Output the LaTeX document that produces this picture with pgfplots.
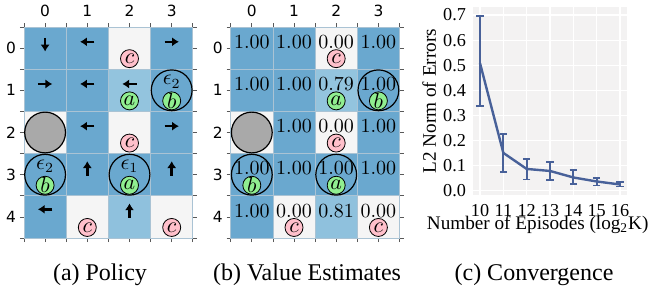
\documentclass[border=0pt]{standalone}
\usepackage{pgfplots}
\pgfplotsset{compat=1.18}
\usepackage{pgfplotstable}
\usepackage{fontspec}
\setmainfont{Liberation Serif}
\newfontfamily\dejavu{DejaVu Sans}
\usetikzlibrary{arrows.meta}

\definecolor{cellline}{RGB}{170,195,212}
\definecolor{pinkc}{RGB}{255,192,203}
\definecolor{greenc}{RGB}{144,238,144}
\definecolor{graycirc}{RGB}{169,169,169}
\definecolor{linecol}{RGB}{72,97,153}
\definecolor{bgcol}{RGB}{243,242,242}

\pgfplotstableread{
col row v
0 0 1.00
1 0 1.00
2 0 0.00
3 0 1.00
0 1 1.00
1 1 1.00
2 1 0.79
3 1 1.00
0 2 0.00
1 2 1.00
2 2 0.00
3 2 1.00
0 3 1.00
1 3 1.00
2 3 1.00
3 3 1.00
0 4 1.00
1 4 0.00
2 4 0.81
3 4 0.00
}\tblcells

\pgfplotstableread{
x y label
0 -0.15 1.00
1 -0.15 1.00
2 -0.15 0.00
3 -0.15 1.00
0 0.85 1.00
1 0.85 1.00
2 0.85 0.79
3 0.85 1.00
1 1.85 1.00
2 1.85 0.00
3 1.85 1.00
0 2.85 1.00
1 2.85 1.00
2 2.85 1.00
3 2.85 1.00
0 3.85 1.00
1 3.85 0.00
2 3.85 0.81
3 3.85 0.00
}\tblvalues

\pgfplotstableread{
x y
3 1
0 3
2 3
}\tblrings

\pgfplotstableread{
x y l
2 0.25 c
2 2.25 c
1 4.25 c
3 4.25 c
}\tblpink

\pgfplotstableread{
x y l
2 1.25 a
3 1.25 b
0 3.25 b
2 3.25 a
}\tblgreen

\pgfplotstableread{
x y k
3 0.8 2
0 2.8 2
2 2.8 1
}\tbleps

\pgfplotstableread{
x y ep em
10 0.508 0.189 0.170
11 0.150 0.077 0.076
12 0.086 0.040 0.042
13 0.078 0.036 0.037
14 0.052 0.029 0.027
15 0.036 0.015 0.016
16 0.024 0.009 0.008
}\tblconv

\pgfplotsset{
  gridpanel/.style={
    anchor=south west, scale only axis, width=84.4pt, height=105.5pt,
    xmin=-0.5, xmax=3.5, ymin=-0.5, ymax=4.5, y dir=reverse,
    axis line style={draw=none},
    xtick={0,1,2,3}, ytick={0,1,2,3,4},
    minor xtick={-0.5,0.5,1.5,2.5,3.5}, minor ytick={-0.5,0.5,1.5,2.5,3.5,4.5},
    xticklabel pos=right,
    tick align=outside, major tick length=2pt, minor tick length=2pt,
    tick style={draw=black!65, line width=0.4pt},
    ticklabel style={font=\dejavu\fontsize{7.7}{9}\selectfont},
    yticklabel style={xshift=1.5pt},
    xticklabel style={yshift=-0.5pt},
    /pgf/number format/assume math mode=true,
    clip=false, clip marker paths=true,
    point meta min=0, point meta max=1,
    colormap={cellmap}{rgb255(0pt)=(245,245,245); rgb255(79pt)=(147,196,222); rgb255(100pt)=(106,168,207)},
  },
  cellplot/.style={scatter, only marks, mark=square*, mark size=10.55pt, line width=0.4pt,
    scatter/use mapped color={draw=cellline, fill=mapped color}, point meta=explicit},
  letterplot/.style={only marks, mark=*, mark size=4.5pt, mark options={fill=#1, draw=none},
    nodes near coords={$\pgfplotspointmeta$}, point meta=explicit symbolic,
    nodes near coords align=center,
    every node near coord/.append style={anchor=center, inner sep=0pt, text=black, font=\fontsize{10.5}{12}\selectfont}},
  ringplot/.style={only marks, mark=o, mark size=10.2pt, mark options={draw=black, line width=0.6pt}},
  grayplot/.style={only marks, mark=*, mark size=10.2pt, mark options={fill=graycirc, draw=black, line width=0.6pt}},
  arr/.style={black, line width=1.25pt, mark=none, -{Latex[length=3.4pt,width=4.6pt]}},
}

\begin{document}
\begin{tikzpicture}
\path[use as bounding box] (0,0) rectangle (325.5pt,145.5pt);

% (a) Policy
\begin{axis}[gridpanel, at={(12pt,26.5pt)}]
\addplot[cellplot] table[x=col, y=row, meta=v] {\tblcells};
\addplot[arr] coordinates {(0,-0.24) (0,0.08)};
\addplot[arr] coordinates {(1.17,-0.15) (0.83,-0.15)};
\addplot[arr] coordinates {(2.83,-0.15) (3.17,-0.15)};
\addplot[arr] coordinates {(-0.17,0.85) (0.17,0.85)};
\addplot[arr] coordinates {(1.17,0.85) (0.83,0.85)};
\addplot[arr] coordinates {(2.17,0.85) (1.83,0.85)};
\addplot[arr] coordinates {(1.17,1.85) (0.83,1.85)};
\addplot[arr] coordinates {(2.83,1.85) (3.17,1.85)};
\addplot[arr] coordinates {(1,3.02) (1,2.68)};
\addplot[arr] coordinates {(3,3.02) (3,2.68)};
\addplot[arr] coordinates {(0.17,3.82) (-0.17,3.82)};
\addplot[arr] coordinates {(2,4.02) (2,3.68)};
\addplot[grayplot] coordinates {(0,2)};
\addplot[ringplot] table[x=x, y=y] {\tblrings};
\addplot[letterplot=pinkc] table[x=x, y=y, meta=l] {\tblpink};
\addplot[letterplot=greenc] table[x=x, y=y, meta=l] {\tblgreen};
\addplot[draw=none, mark=none, nodes near coords={$\epsilon_{\pgfplotspointmeta}$}, point meta=explicit symbolic,
  nodes near coords align=center,
  every node near coord/.append style={anchor=center, inner sep=0pt, text=black, font=\fontsize{10.5}{12}\selectfont}]
  table[x=x, y=y, meta=k] {\tbleps};
\end{axis}

% (b) Value Estimates
\begin{axis}[gridpanel, at={(115.35pt,26.5pt)}]
\addplot[cellplot] table[x=col, y=row, meta=v] {\tblcells};
\addplot[grayplot] coordinates {(0,2)};
\addplot[ringplot] table[x=x, y=y] {\tblrings};
\addplot[letterplot=pinkc] table[x=x, y=y, meta=l] {\tblpink};
\addplot[letterplot=greenc] table[x=x, y=y, meta=l] {\tblgreen};
\addplot[draw=none, mark=none, nodes near coords={$\pgfplotspointmeta$}, point meta=explicit symbolic,
  nodes near coords align=center,
  every node near coord/.append style={anchor=center, inner sep=0pt, text=black, font=\fontsize{9.7}{12}\selectfont}]
  table[x=x, y=y, meta=label] {\tblvalues};
\end{axis}

% (c) Convergence
\begin{axis}[
  at={(236.5pt,48pt)}, anchor=south west, scale only axis, width=77pt, height=93.85pt,
  xmin=9.7, xmax=16.3, ymin=-0.018, ymax=0.731,
  xtick={10,11,12,13,14,15,16}, ytick={0,0.1,0.2,0.3,0.4,0.5,0.6,0.7},
  grid=major, grid style={white, line width=0.6pt},
  axis background/.style={fill=bgcol},
  axis line style={draw=none},
  major tick length=0pt,
  ticklabel style={font=\fontsize{9.1}{10}\selectfont},
  xticklabel style={yshift=-1pt},
  /pgf/number format/assume math mode=true,
  yticklabel style={/pgf/number format/.cd, fixed, fixed zerofill, precision=1},
  xlabel={Number of Episodes (log\textsubscript{2}K)},
  ylabel={L2 Norm of Errors},
  label style={font=\fontsize{9.6}{11}\selectfont},
  xlabel style={at={(axis description cs:0.42,-0.16)}, anchor=center},
  ylabel style={at={(axis description cs:-0.285,0.5)}, anchor=center},
  clip=false,
]
\addplot[linecol, line width=1.2pt, mark=none,
  error bars/.cd, y dir=both, y explicit,
  error bar style={line width=0.9pt, linecol},
  error mark options={rotate=90, mark size=1.9pt, line width=0.9pt, linecol}]
  table[x=x, y=y, y error plus=ep, y error minus=em] {\tblconv};
\end{axis}

\node[font=\fontsize{12}{14}\selectfont, anchor=center] at (50pt,8pt) {(a) Policy};
\node[font=\fontsize{12}{14}\selectfont, anchor=center] at (153.5pt,8pt) {(b) Value Estimates};
\node[font=\fontsize{12}{14}\selectfont, anchor=center] at (267pt,8pt) {(c) Convergence};
\end{tikzpicture}
\end{document}
